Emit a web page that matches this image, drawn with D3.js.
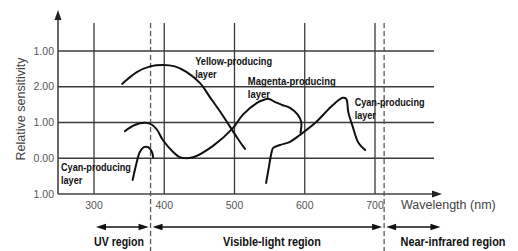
<!DOCTYPE html>
<html>
<head>
<meta charset="utf-8">
<script src="https://cdn.jsdelivr.net/npm/d3@7"></script>
<style>
  html, body { margin: 0; padding: 0; background: #fff; }
  svg { display: block; }
</style>
</head>
<body>
<svg id="chart" width="518" height="251"></svg>
<script>
// ---- data ----
const xTicks = [300, 400, 500, 600, 700];
const yTickValues = [-1, 0, 1, 2, 3];
const yTickLabels = ["1.00", "0.00", "1.00", "2.00", "1.00"];

const yellowW = [340,361,380,398,415,432,451,465,479,494,505,515];
const yellowV = [2.08,2.41,2.57,2.61,2.57,2.41,2.10,1.71,1.32,0.87,0.54,0.26];

const magentaW = [344,358,373,383,390,398,413,422,441,469,498,512,532,541,549,558,568,579,590,595,594];
const magentaV = [0.76,0.93,0.99,0.93,0.79,0.51,0.17,0.03,0.03,0.34,0.85,1.22,1.55,1.63,1.66,1.57,1.49,1.41,1.22,1.01,0.71];

const cyanW = [545,549,552,555,565,579,593,615,640,654,659,662,669,676,686];
const cyanV = [-0.69,-0.24,0.09,0.29,0.37,0.46,0.65,0.99,1.49,1.69,1.66,1.29,0.84,0.45,0.23];

const cyanUvW = [355,361,365,371,377,383,384];
const cyanUvV = [-0.61,-0.10,0.17,0.31,0.31,0.15,0.03];

const regionBounds = [380.5, 713];   // UV | visible | near-IR boundaries (nm)
const regionNames = ["UV region", "Visible-light region", "Near-infrared region"];
const regionFrom = [300, 380.5, 713];
const regionTo = [380.5, 713, 796];

const layerLines1 = ["Yellow-producing", "Magenta-producing", "Cyan-producing", "Cyan-producing"];
const layerLines2 = ["layer", "layer", "layer", "layer"];
const layerW = [444, 519, 671, 253];
const layerV = [2.72, 2.16, 1.57, -0.24];

// ---- scales ----
const x = d3.scaleLinear().domain([300, 700]).range([94, 375]);
const y = d3.scaleLinear().domain([-1, 3]).range([194, 51]);

const svg = d3.select("#chart");
const gridColor = "#3a3a3a";
const xMin = x.invert(58), xMax = x.invert(434);

// grid: verticals
svg.append("g").selectAll("line").data(xTicks).join("line")
  .attr("x1", d => x(d)).attr("x2", d => x(d))
  .attr("y1", 23).attr("y2", y(-1))
  .attr("stroke", gridColor).attr("stroke-width", 1.3);

// grid: horizontals
svg.append("g").selectAll("line").data(yTickValues.slice(1)).join("line")
  .attr("x1", x(xMin)).attr("x2", x(xMax))
  .attr("y1", d => y(d)).attr("y2", d => y(d))
  .attr("stroke", gridColor).attr("stroke-width", 1.3);

// axes with arrows
svg.append("line").attr("x1", x(xMin)).attr("x2", x(xMin))
  .attr("y1", y(-1)).attr("y2", 18).attr("stroke", "#444").attr("stroke-width", 1.6);
svg.append("path")
  .attr("d", `M${x(xMin)},10 L${x(xMin)-3.5},20 L${x(xMin)+3.5},20 Z`).attr("fill", "#222");
svg.append("line").attr("x1", x(xMin)).attr("x2", 434)
  .attr("y1", y(-1)).attr("y2", y(-1)).attr("stroke", "#444").attr("stroke-width", 1.6);
svg.append("path")
  .attr("d", `M442,${y(-1)} L432,${y(-1)-3.5} L432,${y(-1)+3.5} Z`).attr("fill", "#222");

// y tick labels
svg.append("g").selectAll("text").data(yTickValues).join("text")
  .attr("x", 54).attr("y", d => y(d)).attr("dy", "0.35em")
  .attr("text-anchor", "end")
  .attr("font-family", "Liberation Sans, Arial, sans-serif").attr("font-size", 10.5)
  .attr("fill", "#555")
  .text((d, i) => yTickLabels[i]);

// x tick labels
svg.append("g").selectAll("text").data(xTicks).join("text")
  .attr("x", d => x(d)).attr("y", 205).attr("dy", "0.35em")
  .attr("text-anchor", "middle")
  .attr("font-family", "Liberation Sans, Arial, sans-serif").attr("font-size", 10.5)
  .attr("fill", "#555")
  .text(d => d);

// axis titles
svg.append("text").attr("x", 401).attr("y", 205).attr("dy", "0.35em")
  .attr("font-family", "Liberation Sans, Arial, sans-serif").attr("font-size", 12.5)
  .attr("fill", "#444").text("Wavelength (nm)");
svg.append("text")
  .attr("transform", "translate(21,109) rotate(-90)")
  .attr("text-anchor", "middle").attr("dy", "0.35em")
  .attr("font-family", "Liberation Sans, Arial, sans-serif").attr("font-size", 12.5)
  .attr("fill", "#444").text("Relative sensitivity");

// dashed region boundaries
svg.append("g").selectAll("line").data(regionBounds).join("line")
  .attr("x1", d => x(d)).attr("x2", d => x(d))
  .attr("y1", 23).attr("y2", 251)
  .attr("stroke", "#555").attr("stroke-width", 1.3)
  .attr("stroke-dasharray", "5,3");

// curves
const curveGen = d3.line().x(d => x(d[0])).y(d => y(d[1])).curve(d3.curveCatmullRom.alpha(0.5));
const series = [
  [yellowW, yellowV], [magentaW, magentaV], [cyanW, cyanV], [cyanUvW, cyanUvV]
];
svg.append("g").selectAll("path").data(series).join("path")
  .attr("d", s => curveGen(s[0].map((w, i) => [w, s[1][i]])))
  .attr("fill", "none").attr("stroke", "#111").attr("stroke-width", 2)
  .attr("stroke-linecap", "round").attr("stroke-linejoin", "round");

// condensed bold text helper: scale horizontally to a target width
const labelFont = "Liberation Sans, Arial, sans-serif";
function condensed(parent, str, px, py, size, targetW, anchor, sx) {
  const g = parent.append("g");
  const t = g.append("text")
    .attr("font-family", labelFont).attr("font-weight", "bold")
    .attr("font-size", size).attr("fill", "#111")
    .attr("text-anchor", anchor || "start").attr("dy", "0.35em")
    .text(str);
  let s = sx;
  if (s === undefined) {
    const L = t.node().getComputedTextLength();
    s = L > 0 ? targetW / L : 1;
  }
  g.attr("transform", `translate(${px},${py}) scale(${s},1)`);
  return s;
}

// layer labels
const layerLen = [77, 88, 70, 70];
const lab = svg.append("g");
layerW.forEach((w, i) => {
  const s = condensed(lab, layerLines1[i], x(w), y(layerV[i]), 11, layerLen[i], "start");
  condensed(lab, layerLines2[i], x(w), y(layerV[i]) + 13, 11, 0, "start", s);
});

// region labels
const regionLabelX = [119, 272, 453];
const regionLabelWidths = [50, 98, 105];
const regG = svg.append("g");
regionNames.forEach((nm, i) => {
  condensed(regG, nm, regionLabelX[i], 242, 12, regionLabelWidths[i], "middle");
});

// region arrows
const arrowY = 227;
const arrowG = svg.append("g");
[0, 1, 2].forEach(i => {
  const a = x(regionFrom[i]) + 2, b = x(regionTo[i]) - 2;
  arrowG.append("line")
    .attr("x1", a + 8).attr("x2", b - 8).attr("y1", arrowY).attr("y2", arrowY)
    .attr("stroke", "#111").attr("stroke-width", 1.5);
  arrowG.append("polygon")
    .attr("points", `${a},${arrowY} ${a + 10},${arrowY - 3.2} ${a + 10},${arrowY + 3.2}`)
    .attr("fill", "#111");
  arrowG.append("polygon")
    .attr("points", `${b},${arrowY} ${b - 10},${arrowY - 3.2} ${b - 10},${arrowY + 3.2}`)
    .attr("fill", "#111");
});
</script>
</body>
</html>
